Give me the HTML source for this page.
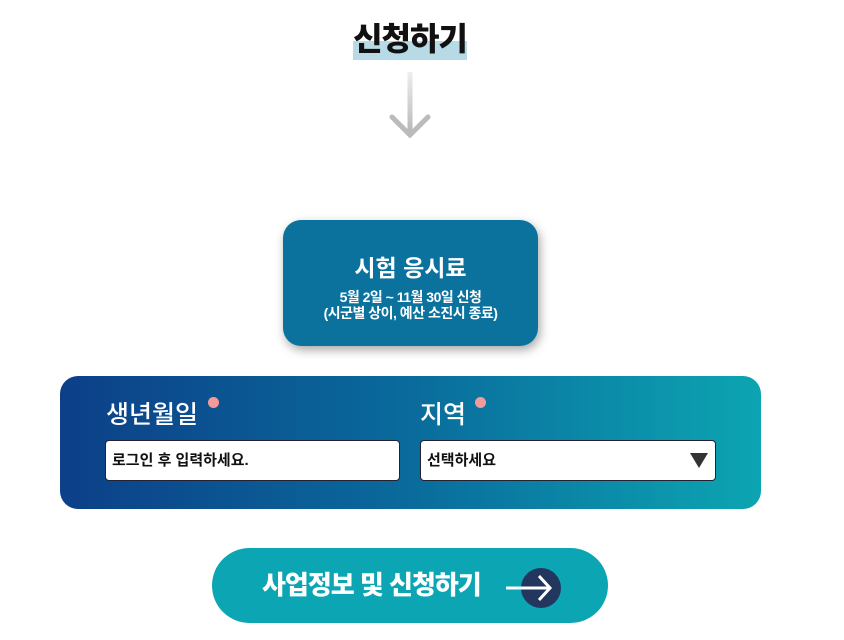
<!DOCTYPE html>
<html><head><meta charset="utf-8"><style>
*{margin:0;padding:0;box-sizing:border-box}
body{width:844px;height:640px;background:#fff;position:relative;overflow:hidden;font-family:"Liberation Sans","Noto Sans CJK KR",sans-serif}
.abs{position:absolute}
.title{left:340px;top:18px;width:140px;height:42px;font-size:32px;font-weight:900;color:#111;text-align:center;line-height:42px;letter-spacing:-1px;white-space:nowrap}
.hl{left:353px;top:41px;width:114px;height:19px;background:#b7dbe6}
.box{left:283px;top:220px;width:255px;height:126px;background:#0b729e;border-radius:18px;box-shadow:2px 4px 10px rgba(0,0,0,.35);color:#fff;text-align:center}
.panel{left:60px;top:376px;width:701px;height:133px;border-radius:18px;background:linear-gradient(90deg,#0c3f88 0%,#0a6b9c 50%,#0ca5b2 100%)}
.lbl{color:#fff;font-size:25px;font-weight:500;white-space:nowrap}
.dot{width:11px;height:11px;border-radius:50%;background:#f59a9a}
.inp{background:#fff;border:1px solid #223;border-radius:4px;height:41px;font-size:15px;font-weight:700;color:#111;line-height:40px;padding-left:6px;white-space:nowrap}
.btn{left:212px;top:548px;width:396px;height:75px;border-radius:38px;background:#0ca5b4;color:#fff;font-size:26px;font-weight:900;line-height:75px;padding-left:50px;letter-spacing:-1px;white-space:nowrap}
</style></head><body>
<div class="abs hl"></div>
<div class="abs title">신청하기</div>
<svg class="abs" style="left:385px;top:70px" width="50" height="72">
<defs><linearGradient id="g" x1="0" y1="0" x2="0" y2="1"><stop offset="0" stop-color="#eee"/><stop offset="1" stop-color="#b5b5b5"/></linearGradient></defs>
<rect x="22.5" y="2" width="5" height="64" fill="url(#g)"/>
<polyline points="7,47 25,65 43,47" fill="none" stroke="#bbb" stroke-width="5" stroke-linecap="round"/>
</svg>
<div class="abs box">
<div style="margin-top:29px;font-size:23px;font-weight:700;white-space:nowrap">시험 응시료</div>
<div style="margin-top:6px;font-size:14px;font-weight:700;line-height:16px;letter-spacing:-0.5px;white-space:nowrap">5월 2일 ~ 11월 30일 신청<br>(시군별 상이, 예산 소진시 종료)</div>
</div>
<div class="abs panel"></div>
<div class="abs lbl" style="left:106px;top:395px">생년월일</div>
<div class="abs dot" style="left:208px;top:397px"></div>
<div class="abs lbl" style="left:420px;top:395px">지역</div>
<div class="abs dot" style="left:475px;top:397px"></div>
<div class="abs inp" style="left:105px;top:440px;width:295px">로그인 후 입력하세요.</div>
<div class="abs inp" style="left:420px;top:440px;width:296px">선택하세요</div>
<svg class="abs" style="left:690px;top:453px" width="18" height="15"><polygon points="0,0 18,0 9,15" fill="#333"/></svg>
<div class="abs btn" style="padding-left:50px">사업정보 및 신청하기</div>
<div class="abs" style="left:521px;top:568px;width:40px;height:40px;border-radius:50%;background:#22365e"></div>
<svg class="abs" style="left:504px;top:570px" width="56" height="36"><line x1="2" y1="18" x2="46" y2="18" stroke="#fff" stroke-width="3"/><polyline points="35,6 46,18 35,30" fill="none" stroke="#fff" stroke-width="3"/></svg>
</body></html>
